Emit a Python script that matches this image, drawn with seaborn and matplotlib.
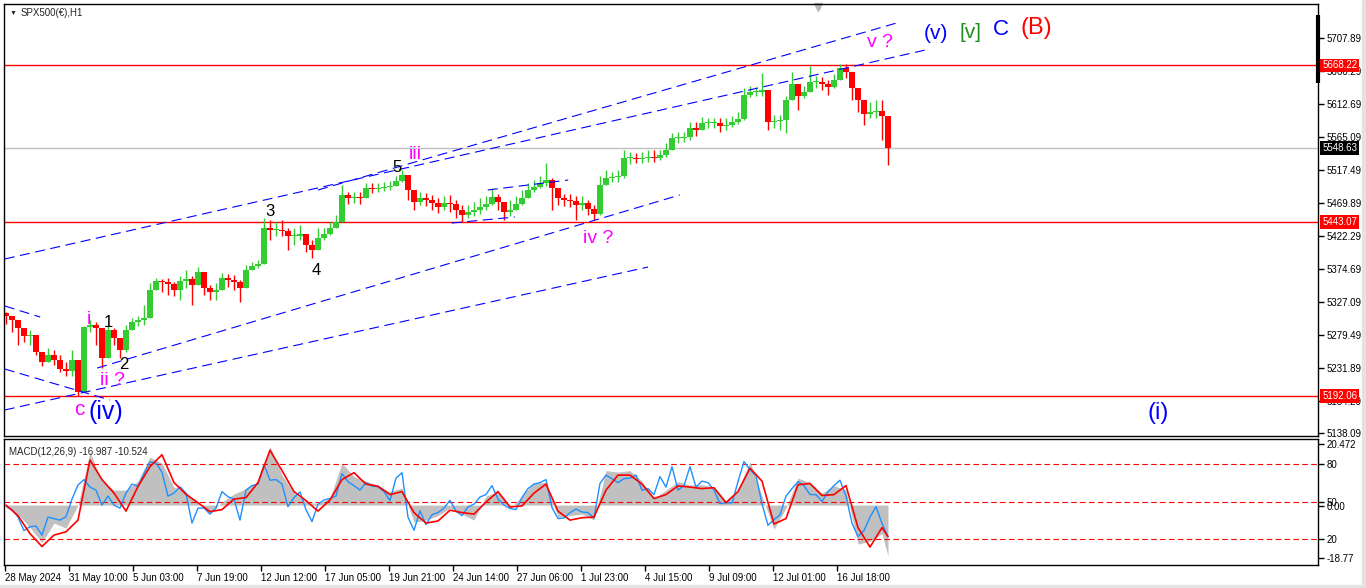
import numpy as np
import pandas as pd
import matplotlib
matplotlib.use("Agg")
import matplotlib.pyplot as plt
from matplotlib.patches import Rectangle
import seaborn as sns

# ---- price data (H1, sampled) ----
first_open = 5311.0
closes = [
    5306.9, 5301.1, 5289.5, 5278.0, 5279.4, 5254.9, 5240.5, 5250.6, 5243.4, 5230.4,
    5227.5, 5243.4, 5197.2, 5291.0, 5293.9, 5289.5, 5246.3, 5286.7, 5275.1, 5257.8,
    5286.7, 5298.2, 5301.1, 5304.0, 5344.4, 5357.3, 5355.9, 5353.0, 5344.4, 5357.3,
    5360.2, 5351.6, 5370.3, 5347.2, 5341.5, 5344.4, 5361.7, 5358.8, 5355.9, 5347.2,
    5373.2, 5379.0, 5381.9, 5433.8, 5430.9, 5430.9, 5429.5, 5422.3, 5422.3, 5425.1,
    5409.3, 5402.1, 5419.4, 5425.1, 5433.8, 5442.4, 5481.4, 5477.1, 5478.5, 5477.1,
    5491.5, 5490.0, 5491.5, 5492.9, 5494.4, 5501.6, 5510.2, 5488.6, 5471.3, 5477.1,
    5474.2, 5469.9, 5464.1, 5469.9, 5468.4, 5459.8, 5452.5, 5456.9, 5459.8, 5464.1,
    5468.4, 5478.5, 5471.3, 5456.9, 5459.8, 5468.4, 5477.1, 5488.6, 5492.9, 5498.7,
    5503.0, 5491.5, 5477.1, 5474.2, 5472.7, 5467.0, 5469.9, 5461.2, 5454.0, 5495.8,
    5505.9, 5507.4, 5508.8, 5534.8, 5534.8, 5533.3, 5534.8, 5536.2, 5534.8, 5539.1,
    5546.3, 5563.6, 5563.6, 5565.1, 5578.0, 5575.1, 5585.2, 5585.2, 5585.2, 5580.9,
    5582.4, 5586.7, 5591.0, 5625.6, 5630.0, 5630.0, 5632.8, 5586.7, 5588.1, 5589.6,
    5618.4, 5641.5, 5624.2, 5630.0, 5644.4, 5644.4, 5641.5, 5637.2, 5647.3, 5664.6,
    5658.8, 5635.7, 5618.4, 5598.2, 5601.1, 5602.5, 5595.3, 5548.63,
]
highs = [
    5312.6, 5306.9, 5298.2, 5286.7, 5286.7, 5279.4, 5254.9, 5260.7, 5257.8, 5250.6,
    5240.5, 5257.8, 5226.1, 5292.4, 5301.1, 5298.2, 5279.4, 5292.4, 5289.5, 5272.2,
    5293.9, 5304.0, 5306.9, 5322.7, 5354.5, 5361.7, 5360.2, 5361.7, 5355.9, 5364.6,
    5373.2, 5364.6, 5377.5, 5355.9, 5351.6, 5354.5, 5368.9, 5367.4, 5366.0, 5358.8,
    5380.4, 5384.7, 5387.6, 5448.2, 5445.3, 5442.4, 5445.3, 5433.8, 5433.8, 5438.1,
    5422.2, 5416.5, 5433.8, 5433.8, 5442.4, 5452.5, 5495.8, 5485.7, 5485.7, 5485.7,
    5498.7, 5498.7, 5498.7, 5500.1, 5501.6, 5508.8, 5517.4, 5508.8, 5488.6, 5485.7,
    5484.3, 5481.4, 5477.1, 5479.9, 5481.4, 5474.2, 5467.0, 5467.0, 5471.3, 5477.1,
    5479.9, 5491.5, 5482.8, 5469.8, 5474.2, 5479.9, 5488.6, 5498.7, 5503.0, 5508.8,
    5527.5, 5505.9, 5485.7, 5482.8, 5482.8, 5479.9, 5479.9, 5474.2, 5467.0, 5508.8,
    5517.4, 5514.6, 5517.4, 5546.3, 5543.4, 5542.0, 5543.4, 5546.3, 5546.3, 5546.3,
    5556.4, 5570.8, 5572.3, 5572.3, 5586.7, 5586.7, 5593.9, 5592.5, 5592.5, 5592.5,
    5592.5, 5595.3, 5601.1, 5635.7, 5638.6, 5637.2, 5657.4, 5632.8, 5596.8, 5596.8,
    5624.2, 5658.8, 5640.1, 5638.6, 5667.5, 5653.0, 5651.6, 5647.3, 5655.9, 5670.3,
    5670.3, 5658.8, 5630.0, 5611.2, 5615.5, 5618.4, 5618.4, 5560.7,
]
lows = [
    5295.3, 5283.8, 5265.0, 5269.4, 5265.0, 5250.6, 5234.7, 5240.5, 5236.2, 5226.1,
    5220.3, 5220.3, 5191.5, 5214.5, 5283.8, 5265.0, 5231.9, 5272.2, 5265.0, 5246.3,
    5254.9, 5286.7, 5292.4, 5293.9, 5322.7, 5344.4, 5341.5, 5337.1, 5335.7, 5329.9,
    5347.2, 5322.7, 5351.6, 5337.1, 5329.9, 5329.9, 5348.7, 5348.7, 5344.4, 5327.1,
    5358.8, 5373.2, 5376.1, 5381.9, 5416.5, 5422.2, 5422.2, 5402.1, 5409.3, 5416.5,
    5399.2, 5390.5, 5409.3, 5416.5, 5423.7, 5433.8, 5445.3, 5468.4, 5469.8, 5468.4,
    5481.4, 5484.3, 5485.7, 5487.2, 5488.6, 5494.4, 5500.1, 5474.2, 5459.8, 5467.0,
    5465.5, 5459.8, 5455.4, 5459.8, 5456.9, 5448.2, 5442.4, 5448.2, 5451.1, 5454.0,
    5459.8, 5467.0, 5459.8, 5445.3, 5451.1, 5459.8, 5467.0, 5478.5, 5485.7, 5491.5,
    5494.4, 5459.8, 5467.0, 5465.5, 5464.1, 5445.3, 5459.8, 5452.5, 5445.3, 5452.5,
    5497.3, 5500.1, 5500.1, 5505.9, 5526.1, 5527.5, 5527.5, 5529.0, 5529.0, 5531.9,
    5536.2, 5546.3, 5556.4, 5557.8, 5560.7, 5566.5, 5578.0, 5578.0, 5578.0, 5572.3,
    5575.1, 5579.5, 5583.8, 5589.6, 5622.7, 5624.2, 5624.2, 5575.1, 5578.0, 5575.1,
    5570.8, 5618.4, 5604.0, 5621.3, 5632.8, 5635.7, 5632.8, 5625.6, 5635.7, 5647.3,
    5650.1, 5618.4, 5601.1, 5582.4, 5592.5, 5592.5, 5560.7, 5524.7,
]

# ---- indicator window ----
macd_hist = [
    -0.8, -3, -7.5, -12.5, -6, -7.7, 0, 17.7, 8, 5,
    5, 8, 16, 14, 6, 4.3, 0.5, -2.5, 1, 3.7,
    5.5, 7.5, 19.5, 10, 4, 1, 0.5, 2.3, 14, 9.5,
    8, 6.5, 4.5, 5.7, -5.7, -5, -3.5, -1, -3, -5,
    3, 4.5, -1.2, 3, 7.5, 7.5, -4, -3.5, -3, -5,
    11.5, 11, 11.5, 8, 2.2, 5, 7.8, 6.7, 6.8, 6,
    1.5, 5, 14.5, 3, -8, -1, 9, 7.5, 4, 6.5,
    5, -13, -12, -9.5, -17,
]
macd_signal = [
    0, -3.5, -9.5, -13.8, -10, -8.9, -5, 15, 8.5, 4,
    -2, 6.2, 12.8, 16.8, 7.5, 3.6, 0.8, -2.2, -1.5, 2,
    2.5, 7.5, 18.3, 11.5, 4.5, 1.5, -2, 1.7, 8.5, 10.8,
    7, 6.3, 3.5, 4.5, -2.5, -6, -5.3, -1.7, -2.5, -3,
    1, 4.5, -0.6, -0.3, 4, 7, -2, -5, -4.2, -4,
    5, 10, 10, 7, 2.2, 3.5, 6.4, 6, 5.5, 5.8,
    0.8, 4.5, 12.3, 8, -6.3, -4.5, 6.8, 7.2, 3.2, 3.5,
    6.5, -7.5, -14, -7.5, -10.5,
]
osc_line = [
    -0.3, -1.5, -4, -8.5, -7.2, -7, -10, -4, -4.5, -5,
    -3.9, 2, 6.7, 8.5, 6, 5, 0, 3, 0, -1,
    4, 7, 6.3, 10.5, 14.4, 14, 11, 3, 4, 6.1,
    4, -6, -1, -1, -3, -1, 4.5, 2.8, 2, -5,
    5, 6.5, 7, 13.5, 8.3, 8.5, 7, -0.5, 2.5, 4.4,
    -1.5, -5.5, 0.3, 1.7, 2.2, 3, 10.5, 7.8, 6.5, 5,
    7.5, 6.3, 6.1, 4.5, 1.5, 9, 10.8, -4, -8.4, -1.9,
    -6.5, -3.2, -2.5, -1, 1.6, -2, -3.5, -0.6, 0.3, 2.7,
    3.5, 6.5, 2, 0, -1.1, -1.5, 2.5, 5.5, 7, 7.5,
    8.5, -0.8, -4.5, -4.3, -2.5, -1.3, -2.3, -2.5, -4.3, 7.2,
    10, 8.8, 7.5, 8.8, 9, 10, 5, 5.5, 3.5, 9.5,
    6, 12.8, 5, 6.5, 12.8, 6, 8, 7.5, 5, 0.5,
    0.8, 0.7, 7.8, 14.5, 11.8, 9.8, 0.5, -6.7, -4.8, -3.3,
    3, 5.5, 7.8, 6.5, 3.5, 3.5, 1.2, 4.4, 6.5, 8.3,
    3, -6, -10.5, -8.5, -4, -0.5, -6.1, -10.5,
]

price_ticks = [5707.89, 5660.29, 5612.69, 5565.09, 5517.49, 5469.89, 5422.29,
               5374.69, 5327.09, 5279.49, 5231.89, 5184.29, 5138.09]
level_lines = [(5668.22, "red"), (5443.07, "red"), (5192.06, "red")]
bid_price = 5548.63
time_labels = ["28 May 2024", "31 May 10:00", "5 Jun 03:00", "7 Jun 19:00", "12 Jun 12:00",
               "17 Jun 05:00", "19 Jun 21:00", "24 Jun 14:00", "27 Jun 06:00", "1 Jul 23:00",
               "4 Jul 15:00", "9 Jul 09:00", "12 Jul 01:00", "16 Jul 18:00"]
macd_levels = [13.7, 1.0, -11.3]
macd_tick_pos = [20.3, 13.7, 1.0, -0.3, -11.3, -17.7]
macd_tick_lab = ["20.472", "80", "50", "0.00", "20", "-18.77"]

# analyst's trend lines (bar index, price)
trend_lines = [
    ((-0.2, 5389.1), (153.2, 5690.5)),
    ((52.0, 5488.6), (149.0, 5730.9)),
    ((15.2, 5231.8), (112.3, 5481.4)),
    ((-0.2, 5171.3), (107.0, 5377.5)),
    ((-0.2, 5321.3), (5.7, 5305.4)),
    ((-0.2, 5230.4), (17.3, 5185.7)),
    ((80.3, 5488.6), (93.7, 5503.0)),
    ((74.3, 5441.0), (84.8, 5449.6)),
]
# wave labels: text, bar, price, colour, size
wave_labels = [
    ("(v)", 155.0, 5715, "#0000FF", 15),
    ("[v]", 160.7, 5716, "#228B22", 15),
    ("C", 165.8, 5720, "#0000FF", 16),
    ("(B)", 171.8, 5723, "#FF0000", 17),
    ("v ?", 145.7, 5702, "#FF00FF", 14),
    ("iii", 68.3, 5540, "#FF00FF", 14),
    ("5", 65.2, 5521, "black", 12),
    ("3", 44.0, 5457, "black", 12),
    ("4", 51.7, 5373, "black", 12),
    ("iv ?", 98.7, 5418, "#FF00FF", 14),
    ("i", 13.8, 5302, "#FF00FF", 14),
    ("1", 17.0, 5298, "black", 12),
    ("2", 19.7, 5237, "black", 12),
    ("ii ?", 17.8, 5214, "#FF00FF", 14),
    ("c", 12.3, 5172, "#FF00FF", 15),
    ("(iv)", 16.7, 5168, "#0000FF", 18),
    ("(i)", 192.0, 5167, "#0000FF", 17),
]

sns.set_theme(style="white")
plt.rcParams["font.family"] = ["Liberation Sans", "DejaVu Sans"]

W, H = 1366, 588
fig = plt.figure(figsize=(W / 100, H / 100), dpi=100)
fig.patch.set_facecolor("white")
ax = fig.add_axes([4 / W, 1 - 436 / H, 1314 / W, 432 / H])
axm = fig.add_axes([4 / W, 1 - 564.5 / H, 1314 / W, 126 / H])

closes = np.array(closes)
n = len(closes)
idx = np.arange(n)
opens = np.r_[first_open, closes[:-1]]
up = closes >= opens
height = closes - opens
height = np.where(np.abs(height) < 1.5, np.where(up, 1.5, -1.5), height)
colors = np.where(up, "#33CC33", "#FF0000")
wick_hi = np.maximum(highs, np.maximum(opens, closes))
wick_lo = np.minimum(lows, np.minimum(opens, closes))

xlim = (-0.33, 218.67)

# price panel
for p, c in level_lines:
    ax.axhline(p, color=c, lw=1, zorder=1)
ax.axhline(bid_price, color="#C0C0C0", lw=1, zorder=1)
ax.vlines(idx, wick_lo, wick_hi, colors=colors, lw=1, zorder=2)
ax.bar(idx, height, bottom=opens, width=0.88, color=colors, linewidth=0, zorder=2)
for (b0, p0), (b1, p1) in trend_lines:
    ax.plot([b0, b1], [p0, p1], color="#0000FF", lw=0.8, ls=(0, (9, 5)), zorder=3)
for t, b, p, c, s in wave_labels:
    ax.text(b, p, t, color=c, fontsize=s, ha="center", va="center", zorder=4)

ax.set_xlim(*xlim)
ax.set_ylim(5133.76, 5756.9)
ax.set_xticks([])
ax.yaxis.tick_right()
ax.set_yticks(price_ticks)
ax.set_yticklabels([f"{v:.2f}" for v in price_ticks])
ax.tick_params(axis="y", right=True, left=False, direction="out", length=4, width=1,
               colors="black", labelsize=7, pad=2)
for s in ax.spines.values():
    s.set_color("black")
    s.set_linewidth(1)

for p, fc in [(5668.22, "red"), (bid_price, "black"), (5443.07, "red"), (5192.06, "red")]:
    ax.annotate(f"{p:.2f}", xy=(1, p), xycoords=("axes fraction", "data"),
                xytext=(3, 0), textcoords="offset points", va="center", ha="left",
                fontsize=7, color="white", zorder=10, annotation_clip=False,
                bbox=dict(boxstyle="square,pad=0.2", fc=fc, ec="none"))
ax.plot([1, 1], [0.817, 0.9745], transform=ax.transAxes, color="black", lw=3,
        clip_on=False, solid_capstyle="butt")
ax.plot([135.3], [5753], marker="v", color="#B8B8B8", ms=6, clip_on=False)
ax.text(0.0045, 0.979, "\u25bc", transform=ax.transAxes, fontsize=5, va="center")
ax.text(0.0125, 0.979, "SPX500(\u20ac),H1", transform=ax.transAxes, fontsize=7, va="center")

# MACD panel
hist_x = np.minimum(np.arange(len(macd_hist)) * 2, n - 1)
axm.fill_between(hist_x, 0, macd_hist, color="#C0C0C0", lw=0, zorder=1)
for v in macd_levels:
    axm.axhline(v, color="red", lw=0.8, ls=(0, (5, 3)), zorder=2)
df_osc = pd.DataFrame({"bar": np.arange(len(osc_line)), "val": osc_line})
df_sig = pd.DataFrame({"bar": hist_x, "val": macd_signal})
sns.lineplot(data=df_osc, x="bar", y="val", ax=axm, color="#1E90FF", lw=1, estimator=None, zorder=3)
sns.lineplot(data=df_sig, x="bar", y="val", ax=axm, color="red", lw=1.2, estimator=None, zorder=4)
axm.set_xlabel("")
axm.set_ylabel("")
axm.set_xlim(*xlim)
axm.set_ylim(-19.8, 22.2)
axm.yaxis.tick_right()
axm.set_yticks(macd_tick_pos)
axm.set_yticklabels(macd_tick_lab)
axm.tick_params(axis="y", right=True, left=False, direction="out", length=4, width=1,
                colors="black", labelsize=7, pad=2)
tick_bars = [-0.17] + [10.5 + 10.667 * k for k in range(13)]
axm.set_xticks(tick_bars)
axm.set_xticklabels(time_labels, ha="left")
axm.tick_params(axis="x", bottom=True, direction="out", length=4, width=1,
                colors="black", labelsize=7, pad=2)
for s in axm.spines.values():
    s.set_color("black")
    s.set_linewidth(1)
axm.text(0.004, 0.93, "MACD(12,26,9) -16.987 -10.524", transform=axm.transAxes,
         fontsize=7, va="top", ha="left")

# window border strips
fig.patches.append(Rectangle((1362 / W, 0), 4 / W, 1, transform=fig.transFigure,
                             color="#E3E3E3", zorder=0))
fig.patches.append(Rectangle((0, 0), 1, 3 / H, transform=fig.transFigure,
                             color="#E3E3E3", zorder=0))

fig.savefig("out.png", dpi=100, facecolor="white")
